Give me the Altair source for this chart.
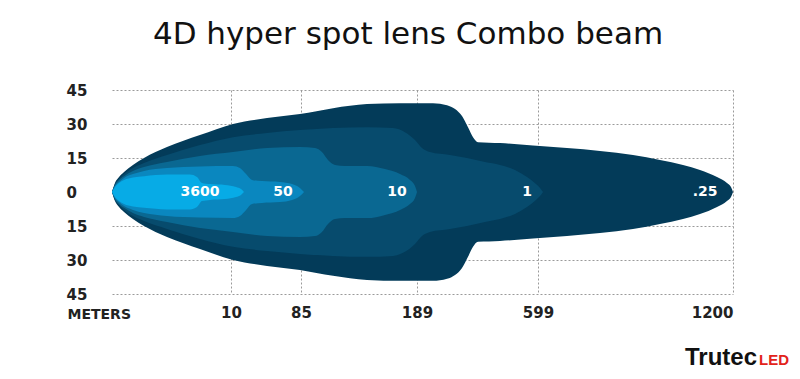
import altair as alt
import pandas as pd

# ---------------- data ----------------
title_text = "4D hyper spot lens Combo beam"
x_tick_values = [10, 85, 189, 599, 1200]          # meters
y_tick_values = [-45, -30, -15, 0, 15, 30, 45]     # degrees (shown as absolute values)

zone_names = [".25", "1", "10", "50", "3600"]
zone_colors = ["#033b59", "#074b6d", "#0a6892", "#0a87bf", "#07abe6"]

# distance (m) and half-width (deg) of each lux zone outline
a_m = [0, 0.25, 0.59, 1.01, 1.76, 2.69, 4.62, 7.39, 12.1, 48.6, 83.9, 113.7, 144.2, 173.8,
       243.2, 290.7, 317.8, 341.5, 361.8, 378.8, 395.7, 470.2, 582.1, 688.4, 790.1, 891.8,
       975.0, 1045.9, 1098.3, 1150.7, 1181.5, 1193.8, 1200]
a_hw = [0, 4.0, 6.6, 8.8, 11.9, 15.0, 19.8, 25.1, 30.0, 32.6, 34.4, 37.0, 38.8, 39.2,
        39.2, 38.3, 36.6, 33.5, 28.6, 24.2, 22.0, 21.6, 20.5, 19.4, 18.1, 16.3,
        14.1, 11.9, 9.7, 6.6, 4.0, 2.2, 0]

b_m = [0, 0.25, 0.59, 1.01, 1.76, 2.69, 4.62, 7.39, 12.1, 48.6, 83.9, 113.7, 144.2, 167.5,
       178.2, 187.2, 205.9, 233.0, 300.8, 358.4, 419.4, 470.2, 521.1, 561.7, 592.2, 605.2,
       614.4]
b_hw = [0, 3.5, 5.7, 7.9, 10.6, 12.8, 16.3, 20.7, 24.2, 26.0, 27.3, 28.2, 28.6, 28.2,
        26.4, 22.9, 19.4, 17.6, 16.3, 15.0, 13.2, 11.9, 9.7, 6.6, 3.5, 1.8,
        0]

c_m = [0, 0.25, 0.59, 1.01, 1.76, 2.69, 4.62, 7.39, 12.1, 48.6, 83.9, 97.6, 103.8, 109.2,
       115.5, 124.5, 144.2, 160.3, 173.8, 182.7, 187.2, 189]
c_hw = [0, 3.1, 5.3, 7.0, 9.3, 11.0, 13.2, 15.9, 17.6, 19.4, 19.8, 19.4, 17.6, 14.1,
        11.9, 11.5, 11.5, 10.1, 7.9, 5.3, 2.6, 0]

d_m = [0, 0.25, 0.59, 1.01, 1.76, 2.69, 4.62, 7.39, 12.1, 19.6, 26.1, 32.5, 43.2, 62.5,
       75.4, 83.9, 87.7]
d_hw = [0, 2.6, 4.4, 6.2, 7.9, 9.3, 10.6, 11.3, 11.5, 10.6, 7.9, 5.3, 4.8, 4.4,
        3.5, 1.8, 0]

e_m = [0, 0.25, 0.59, 1.01, 1.76, 2.69, 4.62, 6.55, 7.14, 7.56, 8.24, 9.50, 15.4, 20.7, 23.9]
e_hw = [0, 2.2, 4.0, 5.3, 6.4, 7.0, 7.7, 7.7, 6.6, 4.0, 3.5, 3.1, 2.2, 1.3, 0]

label_text = ["3600", "50", "10", "1", ".25"]
label_m = [7.4, 65.7, 171, 562, 1114]

logo_left = "Trutec"
logo_right = "LED"

# ---------------- build tables ----------------
rows = []
for name, ms, hws in zip(zone_names, [a_m, b_m, c_m, d_m, e_m], [a_hw, b_hw, c_hw, d_hw, e_hw]):
    for m, h in zip(ms, hws):
        rows.append({"zone": name, "m": m, "hw": h})
zones_df = pd.DataFrame(rows)
labels_df = pd.DataFrame({"label": label_text, "m": label_m})

W, H = 626, 204

xscale = alt.Scale(domain=[0, 10, 85, 189, 599, 1200],
                   range=[0, 119, 189, 305, 426, 621], nice=False, clamp=False)
yscale = alt.Scale(domain=[-45, 45], nice=False, zero=False)

lab_font = "DejaVu Sans"
xaxis = alt.Axis(values=x_tick_values, format="d", grid=True, gridDash=[2, 2],
                 gridColor="#9a9a9a", gridWidth=1, domain=False, ticks=False, tickSize=0,
                 labelFont=lab_font, labelFontWeight="bold", labelFontSize=15,
                 labelColor="#222222", labelPadding=11, labelBaseline="top",
                 title="METERS", titleFont=lab_font, titleFontWeight="bold",
                 titleFontSize=14, titleColor="#222222", titleX=-45, titleY=13,
                 titleAlign="left", titleBaseline="top", titleAngle=0)
yaxis = alt.Axis(values=y_tick_values, labelExpr="abs(datum.value)", grid=True,
                 gridDash=[2, 2], gridColor="#9a9a9a", gridWidth=1, domain=False,
                 ticks=False, tickSize=0, labelAlign="left", labelPadding=46,
                 labelFont=lab_font, labelFontWeight="bold", labelFontSize=15,
                 labelColor="#222222", title=None)

layers = []
for name, col in zip(zone_names, zone_colors):
    layers.append(
        alt.Chart(zones_df)
        .transform_filter(alt.datum.zone == name)
        .transform_calculate(lo="-datum.hw")
        .mark_area(color=col, interpolate="monotone")
        .encode(x=alt.X("m:Q", scale=xscale, axis=xaxis),
                y=alt.Y("hw:Q", scale=yscale, axis=yaxis),
                y2="lo:Q")
    )

text_layer = (
    alt.Chart(labels_df)
    .transform_calculate(y0="0")
    .mark_text(color="white", font=lab_font, fontWeight="bold", fontSize=14,
               baseline="middle", align="center")
    .encode(x=alt.X("m:Q", scale=xscale, axis=xaxis),
            y=alt.Y("y0:Q", scale=yscale, axis=yaxis),
            text="label:N")
)

title_layer = (
    alt.Chart(pd.DataFrame({"t": [title_text]}))
    .mark_text(font="DejaVu Sans", fontSize=31, color="#111111",
               align="center", baseline="alphabetic")
    .encode(text="t:N", x=alt.value(296), y=alt.value(-46))
)

logo1 = (
    alt.Chart(pd.DataFrame({"t": [logo_left]}))
    .mark_text(font="Liberation Sans", fontWeight="bold",
               fontSize=24, color="#111111", align="left", baseline="alphabetic")
    .encode(text="t:N", x=alt.value(573), y=alt.value(275))
)
logo2 = (
    alt.Chart(pd.DataFrame({"t": [logo_right]}))
    .mark_text(font="Liberation Sans", fontWeight="bold",
               fontSize=15, color="#e2231a", align="left", baseline="alphabetic")
    .encode(text="t:N", x=alt.value(647), y=alt.value(275))
)

chart = (
    alt.layer(*layers, text_layer, title_layer, logo1, logo2)
    .properties(width=W, height=H,
                autosize=alt.AutoSizeParams(type="none"),
                padding={"left": 104, "top": 82, "right": 54, "bottom": 77},
                background="white")
    .configure_view(stroke=None)
)

chart.save("out.html", embed_options={"renderer": "svg", "actions": False})
